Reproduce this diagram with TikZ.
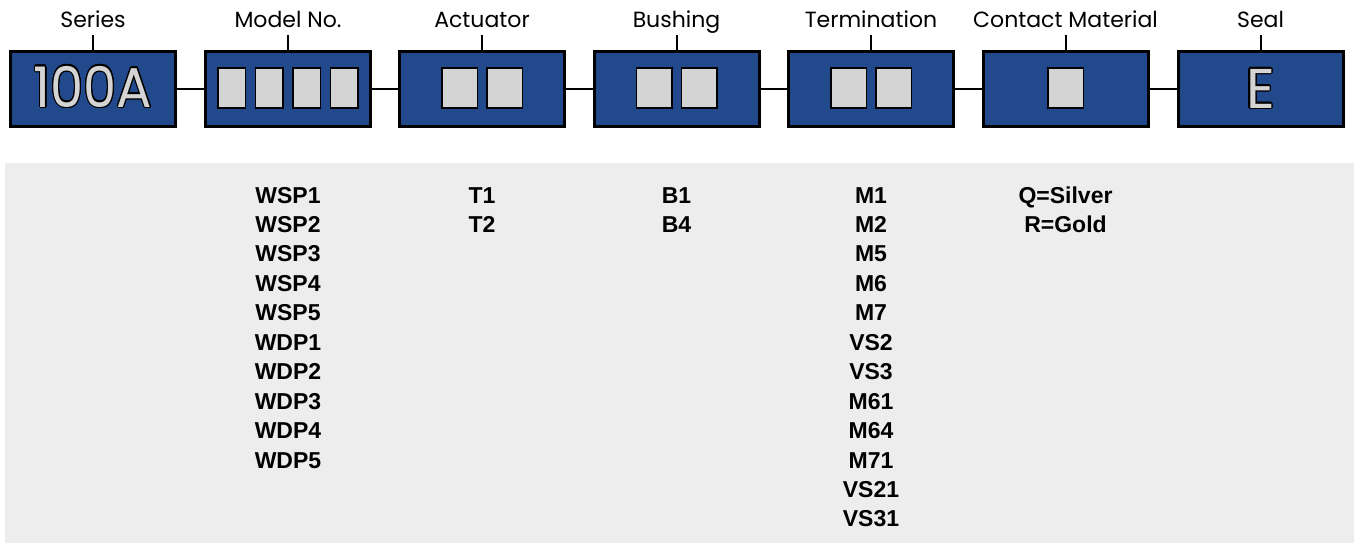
\documentclass[tikz,border=0pt]{standalone}
\usepackage{fontspec}
\usepackage{contour}
\newfontfamily\captionfont{Poppins}
\newfontfamily\codefont{Liberation Sans}
\definecolor{partblue}{RGB}{35,73,141}
\definecolor{slotgray}{RGB}{212,212,212}
\definecolor{panelgray}{RGB}{237,237,237}
\contourlength{1.3pt}
\tikzstyle{field}=[draw=black, line width=3pt, fill=partblue,
  minimum width=165pt, minimum height=75pt, inner sep=0pt]
\tikzstyle{slot}=[draw=black, line width=1.5pt, fill=slotgray,
  minimum height=39.5pt, inner sep=0pt]
\tikzstyle{caption}=[anchor=base, inner sep=0pt,
  font=\captionfont\fontsize{22}{26}\selectfont]
\tikzstyle{bigcode}=[anchor=base, inner sep=0pt, text=slotgray,
  font=\captionfont\fontsize{56}{60}\selectfont]
\tikzstyle{code}=[anchor=base, inner sep=0pt,
  font=\codefont\bfseries\fontsize{23}{27}\selectfont]
\tikzstyle{tick}=[draw, line width=2pt]
\tikzstyle{link}=[draw, line width=2pt]
\newcommand{\field}[2]{node (b#1) [field] {}
  (b#1.north)+(0,-22) node (t#1) [caption] {#2}
  (b#1.north)+(0,-15) coordinate (k#1)}
\newcommand{\slots}[4]{%
  \foreach \k in {1,...,#2}
    \path (b#1.center)+({(\k-(#2+1)/2)*#4},-1) node (s#1\k) [slot, minimum width=#3] {};}

\begin{document}
\begin{tikzpicture}[x=1pt,y=-1pt]
  \useasboundingbox (0,0) rectangle (1354,543);

  % Grey panel with the option codes
  \fill[panelgray] (5,163) rectangle (1354,543);

  % Draw diagram elements
  \path (93,89) \field{Series}{Series};
  \path (bSeries.center)+(195,0) \field{Model}{Model No.};
  \path (bModel.center)+(194,0) \field{Act}{Actuator};
  \path (bAct.center)+(194.5,0) \field{Bush}{Bushing};
  \path (bBush.center)+(194.5,0) \field{Term}{Termination};
  \path (bTerm.center)+(194.5,0) \field{Cont}{Contact Material};
  \path (bCont.center)+(195,0) \field{Seal}{Seal};

  % Fixed characters and empty slots
  \path (bSeries.center)+(0,18) node (cSeries) [bigcode]
    {\scalebox{0.94}[1]{\contour{black}{100A}}};
  \path (bSeal.center)+(0,19) node (cSeal) [bigcode] {\contour{black}{E}};
  \slots{Model}{4}{27.5pt}{37.5}
  \slots{Act}{2}{35.5pt}{45}
  \slots{Bush}{2}{35.5pt}{45}
  \slots{Term}{2}{35.5pt}{45}
  \slots{Cont}{1}{35.5pt}{45}

  % Draw ticks and links between elements
  \foreach \f in {Series,Model,Act,Bush,Term,Cont,Seal}
    \path [tick] (b\f.north) -- (k\f);
  \foreach \a/\b in {Series/Model,Model/Act,Act/Bush,Bush/Term,Term/Cont,Cont/Seal}
    \path [link] (b\a.east) -- (b\b.west);

  % Option codes
  \foreach \c [count=\i from 0] in {WSP1,WSP2,WSP3,WSP4,WSP5,WDP1,WDP2,WDP3,WDP4,WDP5}
    \path (bModel.center |- 0,203)+(0,\i*29.45) node (m\i) [code] {\c};
  \foreach \c [count=\i from 0] in {T1,T2}
    \path (bAct.center |- 0,203)+(0,\i*29.45) node (a\i) [code] {\c};
  \foreach \c [count=\i from 0] in {B1,B4}
    \path (bBush.center |- 0,203)+(0,\i*29.45) node (u\i) [code] {\c};
  \foreach \c [count=\i from 0] in {M1,M2,M5,M6,M7,VS2,VS3,M61,M64,M71,VS21,VS31}
    \path (bTerm.center |- 0,203)+(0,\i*29.45) node (e\i) [code] {\c};
  \foreach \c [count=\i from 0] in {Q=Silver,R=Gold}
    \path (bCont.center |- 0,203)+(0,\i*29.45) node (o\i) [code] {\c};
\end{tikzpicture}
\end{document}
